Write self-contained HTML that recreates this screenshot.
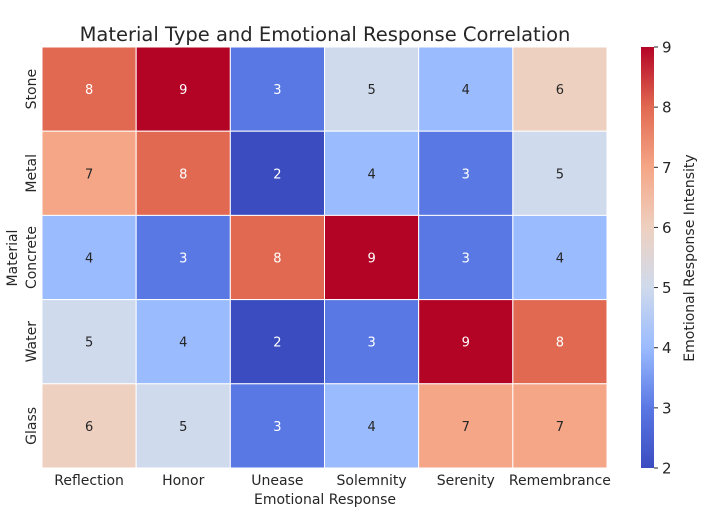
<!DOCTYPE html>
<html><head><meta charset="utf-8"><style>
body{margin:0;background:#fff;font-family:"Liberation Sans","DejaVu Sans",sans-serif}
</style></head><body>
<svg id="chart" width="721" height="517" viewBox="0 0 721 517" xmlns="http://www.w3.org/2000/svg" font-family="DejaVu Sans, Liberation Sans, sans-serif">
<text x="325" y="41" text-anchor="middle" font-size="19.5" fill="#262626">Material Type and Emotional Response Correlation</text>
<g id="cells"></g>
<g id="xt"></g><g id="yt"></g>
<text x="325" y="504" text-anchor="middle" font-size="14" fill="#262626">Emotional Response</text>
<text transform="translate(17,258) rotate(-90)" text-anchor="middle" font-size="14" fill="#262626">Material</text>
<g id="cbar"></g>
<text transform="translate(694,258) rotate(-90)" text-anchor="middle" font-size="14" fill="#262626">Emotional Response Intensity</text>
</svg>
<script>
const categories=["Reflection","Honor","Unease","Solemnity","Serenity","Remembrance"];
const materials=["Stone","Metal","Concrete","Water","Glass"];
const values=[[8,9,3,5,4,6],[7,8,2,4,3,5],[4,3,8,9,3,4],[5,4,2,3,9,8],[6,5,3,4,7,7]];
const cbTicks=[2,3,4,5,6,7,8,9];
const vmin=2,vmax=9;
const L=42,R=607,T=47,B=468;
const stops=[[0,[59,76,192]],[0.143,[90,120,228]],[0.286,[154,187,254]],[0.429,[207,218,236]],[0.571,[238,208,192]],[0.714,[245,166,135]],[0.857,[225,105,81]],[1,[180,4,38]]];
function color(v){const t=(v-vmin)/(vmax-vmin);for(let i=1;i<stops.length;i++){if(t<=stops[i][0]+1e-9){const a=stops[i-1],b=stops[i],f=(t-a[0])/(b[0]-a[0]);return "rgb("+a[1].map((c,k)=>Math.round(c+(b[1][k]-c)*f)).join(",")+")";}}return "rgb(180,4,38)";}
const NS="http://www.w3.org/2000/svg";
const cw=(R-L)/categories.length,ch=(B-T)/materials.length;
const xs=i=>L+i*cw,ys=j=>T+j*ch;
const cells=document.getElementById('cells');
values.forEach((row,j)=>row.forEach((v,i)=>{
 const r=document.createElementNS(NS,'rect');
 r.setAttribute('x',xs(i));r.setAttribute('y',ys(j));r.setAttribute('width',cw);r.setAttribute('height',ch);
 r.setAttribute('fill',color(v));r.setAttribute('stroke','#fff');r.setAttribute('stroke-width','1');
 
 
 cells.appendChild(r);
 const t=document.createElementNS(NS,'text');
 t.setAttribute('x',xs(i)+cw/2);t.setAttribute('y',ys(j)+ch/2+5);t.setAttribute('text-anchor','middle');t.setAttribute('font-size','13');
 const tt=(v-vmin)/(vmax-vmin);t.setAttribute('fill',(tt<0.2||tt>0.8)?'#fff':'#262626');
 t.textContent=v;
 
 
 cells.appendChild(t);
}));
const xt=document.getElementById('xt');
categories.forEach((c,i)=>{const t=document.createElementNS(NS,'text');t.setAttribute('x',xs(i)+cw/2);t.setAttribute('y',485);t.setAttribute('text-anchor','middle');t.setAttribute('font-size','14');t.setAttribute('fill','#262626');t.textContent=c;


xt.appendChild(t);});
const yt=document.getElementById('yt');
materials.forEach((m,j)=>{const t=document.createElementNS(NS,'text');const cy=ys(j)+ch/2;t.setAttribute('transform','translate(36,'+cy+') rotate(-90)');t.setAttribute('text-anchor','middle');t.setAttribute('font-size','14');t.setAttribute('fill','#262626');t.textContent=m;


yt.appendChild(t);});
const cb=document.getElementById('cbar');const cx=641,cwid=13;
const defs=document.createElementNS(NS,'defs');const g=document.createElementNS(NS,'linearGradient');g.setAttribute('id','cg');g.setAttribute('x1','0');g.setAttribute('y1','1');g.setAttribute('x2','0');g.setAttribute('y2','0');
stops.forEach(s=>{const st=document.createElementNS(NS,'stop');st.setAttribute('offset',s[0]);st.setAttribute('stop-color','rgb('+s[1].join(',')+')');g.appendChild(st);});
defs.appendChild(g);cb.appendChild(defs);
const bar=document.createElementNS(NS,'rect');bar.setAttribute('x',cx);bar.setAttribute('y',T);bar.setAttribute('width',cwid);bar.setAttribute('height',B-T);bar.setAttribute('fill','url(#cg)');


cb.appendChild(bar);
const cy=v=>B-(v-vmin)/(vmax-vmin)*(B-T);
cbTicks.forEach(v=>{const l=document.createElementNS(NS,'line');l.setAttribute('x1',cx+cwid);l.setAttribute('x2',cx+cwid+4);l.setAttribute('y1',cy(v));l.setAttribute('y2',cy(v));l.setAttribute('stroke','#262626');cb.appendChild(l);
const t=document.createElementNS(NS,'text');t.setAttribute('x',cx+cwid+8);t.setAttribute('y',cy(v)+5.5);t.setAttribute('font-size','15');t.setAttribute('fill','#262626');t.textContent=v;


cb.appendChild(t);});
</script>
</body></html>
